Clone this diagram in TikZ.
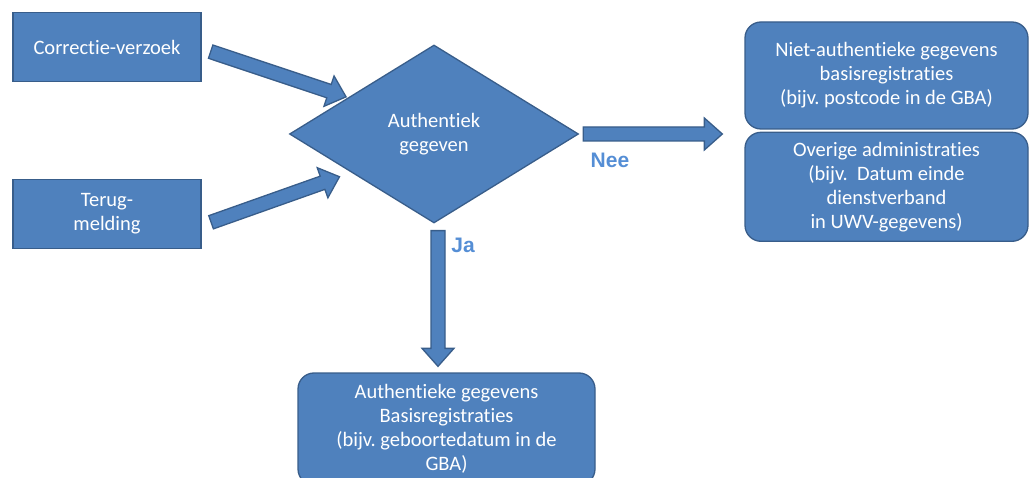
\documentclass[tikz,border=0pt]{standalone}
\usepackage{fontspec}
\setmainfont{Carlito}[Ligatures={NoCommon}]
\newfontfamily\lblfont{Liberation Sans}
\usepackage{xcolor}
\usepackage{tikz}
\usetikzlibrary{shapes.geometric,positioning,calc}

\definecolor{boxblue}{HTML}{4F81BD}
\definecolor{edgeblue}{HTML}{385D8A}
\definecolor{lblblue}{HTML}{558ED5}

% Blokpijl: begin, eind, inkorten begin, inkorten eind
\newcommand{\blokpijl}[4]{%
  \coordinate (bp-s) at ($(#1)!#3!(#2)$);
  \coordinate (bp-e) at ($(#2)!#4!(#1)$);
  \coordinate (bp-h) at ($(bp-e)!18pt!(bp-s)$);
  \draw[pijl]
    ($(bp-s)!7pt!90:(bp-e)$) -- ($(bp-h)!7pt!90:(bp-e)$)
    -- ($(bp-h)!16pt!90:(bp-e)$) -- (bp-e)
    -- ($(bp-h)!16pt!-90:(bp-e)$) -- ($(bp-h)!7pt!-90:(bp-e)$)
    -- ($(bp-s)!7pt!-90:(bp-e)$) -- cycle;
}

\tikzset{
  blok/.style={draw=edgeblue, fill=boxblue, line width=1.3pt, text=white,
    align=center, font=\frenchspacing\fontsize{20.5}{24}\selectfont, inner sep=2pt},
  rblok/.style={blok, rounded corners=16pt},
  pijl/.style={draw=edgeblue, fill=boxblue, line width=1.3pt, line join=miter},
  lbl/.style={text=lblblue, font=\lblfont\bfseries\fontsize{21}{24}\selectfont}
}

\begin{document}
\begin{tikzpicture}[
    x=1pt,
    y=-1pt,
    line cap=round
]

\useasboundingbox (0,0) rectangle (1030,478);
\clip (0,0) rectangle (1030,478);

% Invoer
\node[blok, minimum width=188pt, minimum height=69pt] (corr) at (107,47)
    {Correctie-verzoek};
\node[blok, minimum width=188pt, minimum height=69pt] (terug) at (107,214)
    {Terug-\\melding};

% Beslissing
\node[blok, diamond, aspect=1.6, inner sep=0pt,
    minimum width=289pt, minimum height=178pt] (auth) at (434,134)
    {Authentiek\\gegeven};

% Uitkomsten
\node[rblok, minimum width=283pt, minimum height=107pt] (niet) at (886.5,75.5)
    {Niet-authentieke gegevens\\basisregistraties\\(bijv. postcode in de GBA)};
\node[rblok, minimum width=283pt, minimum height=109pt, below=2pt of niet] (overig)
    {Overige administraties\\(bijv.\ \ Datum einde\\dienstverband\\in UWV-gegevens)};
\node[rblok, minimum width=297pt, minimum height=112pt] (basis) at (446.5,429)
    {Authentieke gegevens\\Basisregistraties\\(bijv. geboortedatum in de\\GBA)};

% Pijlen
\blokpijl{corr.-1}{auth.157}{9.5pt}{2pt}
\blokpijl{terug.-7}{auth.205}{10pt}{12.5pt}
\blokpijl{auth.east}{auth.east -| niet.west}{4pt}{22pt}
\blokpijl{[xshift=4pt]auth.south}{[xshift=4pt]auth.south |- basis.north}{7pt}{6pt}

% Labels
\node[lbl] (nee) at (610,160) {Nee};
\node[lbl] (ja) at (463,245) {Ja};

\end{tikzpicture}
\end{document}
